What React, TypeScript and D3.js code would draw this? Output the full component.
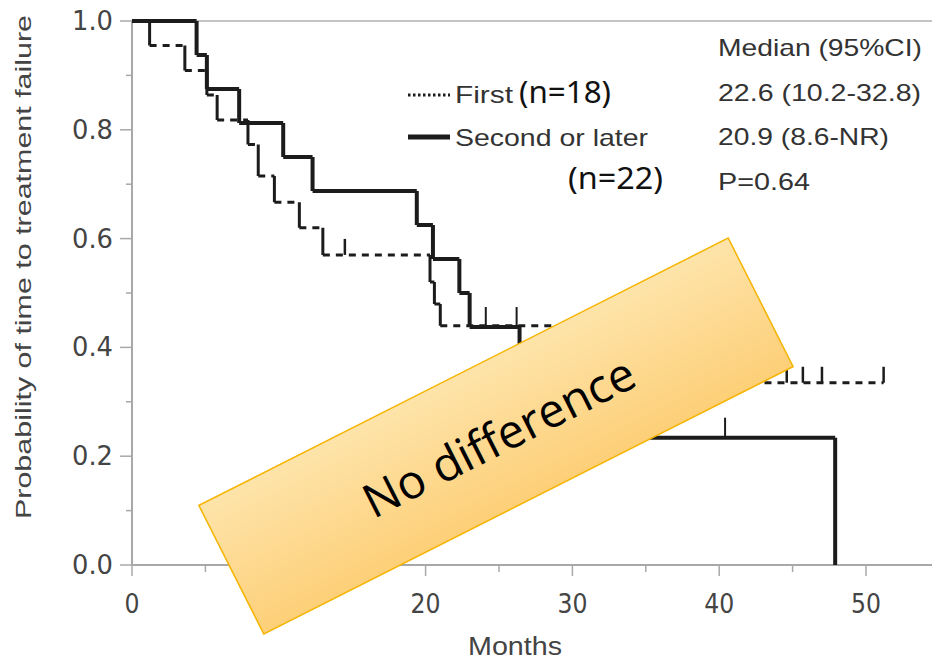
import React from 'react';
import * as d3 from 'd3';

// Kaplan-Meier steps (months, survival probability)
const firstTimes = [0, 1.2, 3.6, 5.1, 5.8, 7.9, 8.6, 9.7, 11.4, 13.0, 20.3, 20.6, 21.0, 32.0, 36.0, 51.2];
const firstSurv = [1, 0.955, 0.909, 0.864, 0.818, 0.773, 0.715, 0.667, 0.62, 0.57, 0.52, 0.48, 0.44, 0.39, 0.335, 0.335];
const firstCensor = [14.5, 44.6, 45.7, 47.0, 51.2];

const secondTimes = [0, 4.4, 5.1, 7.3, 10.3, 12.3, 19.4, 20.5, 22.3, 23.0, 26.4, 28.5, 31.0, 47.9];
const secondSurv = [1, 0.9375, 0.875, 0.8125, 0.75, 0.6875, 0.625, 0.5625, 0.5, 0.4375, 0.375, 0.3125, 0.234, 0];
const secondCensor = [24.1, 26.2, 40.4];

const xTicks = [0, 10, 20, 30, 40, 50];
const xMinor = [5, 15, 25, 35, 45];
const yTicks = [0, 0.2, 0.4, 0.6, 0.8, 1.0];
const yMinor = [0.1, 0.3, 0.5, 0.7, 0.9];

const statLines = ['Median (95%CI)', '22.6 (10.2-32.8)', '20.9 (8.6-NR)', 'P=0.64'];

const W = 932;
const H = 661;

const x = d3.scaleLinear().domain([0, 50]).range([132, 866]);
const y = d3.scaleLinear().domain([0, 1]).range([565, 21]);

const AXIS = '#a8a8a8';
const TXT = '#444';
const INK = '#1c1c1c';

function stepParts(times: number[], surv: number[]) {
  const horiz: string[] = [];
  const vert: string[] = [];
  for (let i = 0; i < times.length - 1; i += 1) {
    horiz.push(`M${x(times[i])},${y(surv[i])}H${x(times[i + 1])}`);
    if (surv[i + 1] !== surv[i]) {
      vert.push(`M${x(times[i + 1])},${y(surv[i])}V${y(surv[i + 1])}`);
    }
  }
  return { horiz: horiz.join(''), vert: vert.join('') };
}

function survAt(times: number[], surv: number[], t: number) {
  let s = surv[0];
  times.forEach((tt, i) => {
    if (tt <= t) s = surv[i];
  });
  return s;
}

export default function App() {
  const first = stepParts(firstTimes, firstSurv);
  const second = stepParts(secondTimes, secondSurv);

  // rotated label box
  const boxCx = 496;
  const boxCy = 436;
  const boxW = 593;
  const boxH = 144;
  const angle = -26.8;

  return (
    <svg width={W} height={H} style={{ position: 'absolute', left: 0, top: 0, background: '#fff' }}>
      <defs>
        <linearGradient id="boxFill" x1="0" y1="0" x2="0" y2="1">
          <stop offset="0%" stopColor="#fee4aa" />
          <stop offset="100%" stopColor="#fdcf78" />
        </linearGradient>
      </defs>

      {/* frame and axes */}
      <line x1={x(0)} x2={W} y1={y(1)} y2={y(1)} stroke="#c4c4c4" strokeWidth={2} />
      <line x1={x(0)} x2={W} y1={y(0)} y2={y(0)} stroke={AXIS} strokeWidth={2} />
      <line x1={x(0)} x2={x(0)} y1={y(1)} y2={y(0)} stroke={AXIS} strokeWidth={2} />

      {xTicks.map((t) => (
        <g key={`xt${t}`}>
          <line x1={x(t)} x2={x(t)} y1={y(0)} y2={y(0) + 11} stroke={AXIS} strokeWidth={1.5} />
          <text x={x(t)} y={613} textAnchor="middle" fontFamily="DejaVu Sans" fontSize={26} fill={TXT}
            textLength={t === 0 ? 15 : 30} lengthAdjust="spacingAndGlyphs">
            {t}
          </text>
        </g>
      ))}
      {xMinor.map((t) => (
        <line key={`xm${t}`} x1={x(t)} x2={x(t)} y1={y(0)} y2={y(0) + 7} stroke={AXIS} strokeWidth={1.5} />
      ))}
      {yTicks.map((t) => (
        <g key={`yt${t}`}>
          <line x1={x(0) - 12} x2={x(0)} y1={y(t)} y2={y(t)} stroke={AXIS} strokeWidth={1.5} />
          <text x={113} y={y(t) + 9} textAnchor="end" fontFamily="DejaVu Sans" fontSize={26} fill={TXT}
            textLength={41} lengthAdjust="spacingAndGlyphs">
            {t.toFixed(1)}
          </text>
        </g>
      ))}
      {yMinor.map((t) => (
        <line key={`ym${t}`} x1={x(0) - 6} x2={x(0)} y1={y(t)} y2={y(t)} stroke={AXIS} strokeWidth={1.5} />
      ))}

      <text x={515} y={655} textAnchor="middle" fontFamily="Liberation Sans" fontSize={26} fill={TXT}
        textLength={94} lengthAdjust="spacingAndGlyphs">
        Months
      </text>
      <text transform={`translate(31,267) rotate(-90)`} textAnchor="middle" fontFamily="Liberation Sans"
        fontSize={22} fill={TXT} textLength={504} lengthAdjust="spacingAndGlyphs">
        Probability of time to treatment failure
      </text>

      {/* First: dashed */}
      <path d={first.horiz} fill="none" stroke={INK} strokeWidth={3} strokeDasharray="7 6" />
      <path d={first.vert} fill="none" stroke={INK} strokeWidth={3} />
      {firstCensor.map((t) => {
        const s = survAt(firstTimes, firstSurv, t);
        return <line key={`fc${t}`} x1={x(t)} x2={x(t)} y1={y(s)} y2={y(s) - 16} stroke={INK} strokeWidth={2.5} />;
      })}

      {/* Second or later: solid */}
      <path d={second.horiz + second.vert} fill="none" stroke={INK} strokeWidth={4} />
      {secondCensor.map((t) => {
        const s = survAt(secondTimes, secondSurv, t);
        return <line key={`sc${t}`} x1={x(t)} x2={x(t)} y1={y(s)} y2={y(s) - 20} stroke={INK} strokeWidth={2} />;
      })}

      {/* legend */}
      <line x1={408} x2={450} y1={95} y2={95} stroke={INK} strokeWidth={3} strokeDasharray="2.5 2.5" />
      <line x1={408} x2={450} y1={137} y2={137} stroke={INK} strokeWidth={5} />
      <text x={455} y={103} fontFamily="Liberation Sans" fontSize={24} fill="#333" textLength={58} lengthAdjust="spacingAndGlyphs">
        First
      </text>
      <text x={519} y={103} fontFamily="Noto Sans" fontSize={30} fill="#111" textLength={92} lengthAdjust="spacingAndGlyphs">
        (n=18)
      </text>
      <text x={455} y={146} fontFamily="Liberation Sans" fontSize={24} fill="#333" textLength={193} lengthAdjust="spacingAndGlyphs">
        Second or later
      </text>
      <text x={568} y={189} fontFamily="Noto Sans" fontSize={30} fill="#111" textLength={95} lengthAdjust="spacingAndGlyphs">
        (n=22)
      </text>

      {statLines.map((s, i) => (
        <text key={s} x={718} y={56 + i * 44.7} fontFamily="Liberation Sans" fontSize={24} fill="#333"
          textLength={[204, 203, 171, 92][i]} lengthAdjust="spacingAndGlyphs">
          {s}
        </text>
      ))}

      {/* overlay box */}
      <g transform={`translate(${boxCx},${boxCy}) rotate(${angle})`}>
        <rect x={-boxW / 2} y={-boxH / 2} width={boxW} height={boxH} fill="url(#boxFill)" stroke="#f5b400" strokeWidth={1.5} />
        <text x={2} y={19} textAnchor="middle" fontFamily="Open Sans" fontSize={47} fill="#000">
          No difference
        </text>
      </g>
    </svg>
  );
}
